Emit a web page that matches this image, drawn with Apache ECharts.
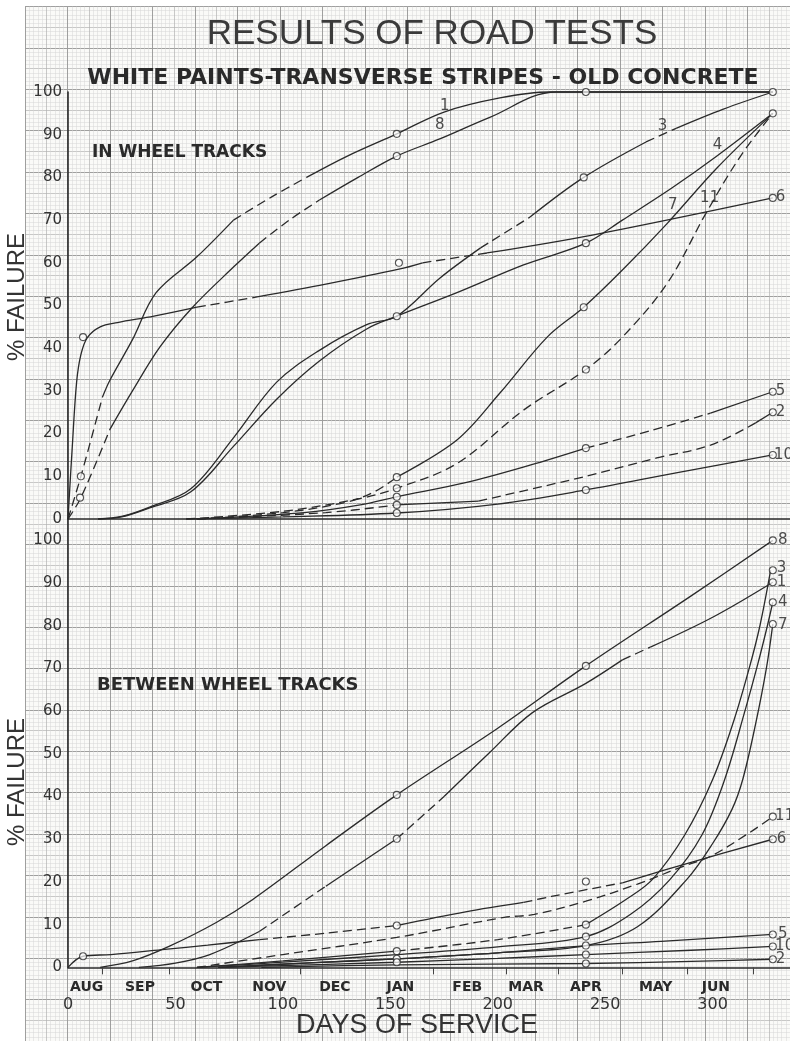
<!DOCTYPE html>
<html><head><meta charset="utf-8">
<script src="https://cdn.jsdelivr.net/npm/echarts@6/dist/echarts.min.js"></script>
<style>html,body{margin:0;padding:0;background:#fff}#c{width:790px;height:1041px}</style>
</head><body><div id="c"></div>
<script>
// ---------- tick labels ----------
const months = ['AUG','SEP','OCT','NOV','DEC','JAN','FEB','MAR','APR','MAY','JUN'];
const monthDays = [8.7,33.5,64.4,93.7,124.2,154.7,185.8,213.2,241,273.5,301.5];
const monthTicks = [16,47,108,170,204,228,258,288,319];
const dayTicks = [0,50,100,150,200,250,300];

// ---------- IN WHEEL TRACKS: curves [days, % failure]; seg: s=solid, d=dashed per segment ----------
const tw1 = [[0,0],[6,10],[16,28.5],[19.5,32.5],[30,42],[41,53],[60,61.4],[77,70],[95,75.5],[111,80],[130,85],[153,90.2],[175,95.3],[201,98.6],[224,100],[328,100]];
const tw1Seg = 'ddsssssddssssss';
const tw8 = [[0,0],[6,5],[19.5,21],[30,30],[42.8,40.3],[58,49.6],[77,59],[89,64.6],[103,70],[117,74.7],[135,80],[153,85],[173,89],[196,94],[227,100],[328,100]];
const tw8Seg = 'ddsssssddssssss';
const tw6 = [[0,0],[2,17],[4,32],[6,38.5],[9,42.5],[15,45],[23,46],[40,47.5],[60,49.6],[88,52],[120,55],[154,58.5],[165,60],[195,62.3],[244,66.5],[328,75.2]];
const tw6Seg = 'ssssssssdsssdss';
const tw3 = [[14,0],[25,0.6],[38,2.8],[57,7],[77,19],[97,32],[117,39.5],[139,45.5],[153,47.5],[173,56.4],[192,63.5],[215,70.7],[240,80],[269,88.3],[283,91.5],[305,96],[328,100]];
const tw3Seg = 'ssssssssssdssdss';
const tw4 = [[14,0],[25,0.5],[38,2.6],[57,6.3],[77,17],[97,28],[117,37],[139,44.5],[153,47.5],[181,53],[212,59.5],[241,64.6],[258,70],[281,77.5],[302,85],[328,95]];
const tw4Seg = 'sssssssssssssss';
const tw7 = [[60,0],[100,1.5],[130,4],[143,6.5],[153,9.8],[181,18.5],[201,29.5],[223,42.6],[240,49.6],[258,58.3],[279,69.3],[302,82.2],[328,95]];
const tw7Seg = 'ddddssssssss';
const tw11 = [[55,0],[100,1.8],[136,4.8],[153,7.2],[181,13],[212,25.5],[241,35],[258,42.6],[279,55.3],[297,71.7],[313,85],[328,95]];
const tw11Seg = 'ddddddddddd';
const tw5 = [[60,0],[110,1.5],[136,3.3],[153,5.2],[185,8.5],[215,12.6],[241,16.6],[272,20.8],[299,24.8],[328,29.8]];
const tw5Seg = 'ssssssdds';
const tw2 = [[60,0],[120,1.5],[153,3.3],[191,4.2],[241,10],[274,14.3],[299,17.3],[320,22.5],[328,25]];
const tw2Seg = 'ddsdddds';
const tw10 = [[55,0],[100,0.5],[153,1.4],[200,3.5],[241,6.8],[283,10.8],[328,15]];
const tw10Seg = 'ssssss';
const twObs = [[6,10],[5.6,5],[7,42.6],[153,90.2],[153,85],[154,60],[153,47.5],[153,9.8],[153,7.2],[153,5.2],[153,3.3],[153,1.4],[241,100],[240,80],[241,64.6],[240,49.6],[241,35],[241,16.6],[241,6.8],[328,100],[328,95],[328,75.2],[328,29.8],[328,25],[328,15]];
const twTags = [['1',175.3,96.6],['8',173,92.3],['3',276.7,91.9],['4',302.3,87.6],['7',281.4,73.5],['11',298.6,75.2],['6',331.6,75.4],['5',331.6,30],['2',331.6,25],['10',333,15]];

// ---------- BETWEEN WHEEL TRACKS ----------
const bw8 = [[15,0],[30,1.5],[47,4.9],[69,10.5],[86,15.9],[120,28.5],[153,40.4],[200,56],[241,70.6],[290,87],[328,100]];
const bw8Seg = 'ssssssssss';
const bw1 = [[33,0],[50,1],[66,3],[89,8.4],[120,19],[153,30.1],[175,40],[196,50.2],[216,59.6],[241,66.5],[258,72],[271,75],[300,82],[328,90.2]];
const bw1Seg = 'sssdsdssssdss';
const bw6 = [[0,0],[7,2.6],[20,3],[45,4.2],[65,5.2],[89,6.5],[120,8],[153,9.8],[185,13],[212,15.2],[225,16.6],[258,19.8],[290,24.6],[328,30]];
const bw6Seg = 'sssssddssddss';
const bw11 = [[60,0],[100,3],[153,7],[203,11.7],[217,12.4],[241,15.5],[265,19.5],[286,23.6],[299,26],[317,31.5],[328,35.3]];
const bw11Seg = 'dddddddddd';
const bw3 = [[60,0],[100,1.5],[153,3.8],[200,6.5],[241,10],[260,16],[272,20.6],[287,31],[300,44],[310,58],[317,70],[322,80],[327,93]];
const bw3Seg = 'ssddssssssss';
const bw4 = [[60,0],[100,1.2],[153,3],[200,4.8],[241,7.2],[262,12.5],[280,20.5],[295,31],[305.6,44],[315,60],[321,71],[325,79],[328,85.5]];
const bw4Seg = 'ssssssssssss';
const bw7 = [[70,0],[110,1],[153,2],[200,3.4],[241,5.1],[265,9.5],[288,20.6],[300,29],[309,37],[314,44],[320,57],[325,70],[328,80.4]];
const bw7Seg = 'ssssssssssss';
const bw5 = [[70,0],[110,1],[153,2],[200,3.4],[241,5.1],[276,6.1],[328,7.7]];
const bw5Seg = 'ssssss';
const bw10 = [[70,0],[153,1.2],[200,2.1],[241,3],[290,4],[328,4.9]];
const bw10Seg = 'sssss';
const bw2 = [[90,0],[153,0.6],[241,0.9],[290,1.4],[328,1.9]];
const bw2Seg = 'ssss';
const bwObs = [[7,2.6],[153,40.4],[153,30.1],[153,9.8],[153,3.8],[153,2.0],[153,1.2],[241,70.6],[241,20.1],[241,10],[241,7.2],[241,5.1],[241,3.0],[241,0.9],[328,100],[328,93],[328,90.2],[328,85.5],[328,80.4],[328,35.3],[328,30],[328,7.7],[328,4.9],[328,1.9]];
const bwTags = [['8',332.6,100],['3',332,93.4],['1',332,90.2],['4',332.6,85.5],['7',332.6,80.2],['11',333.5,35.4],['6',332,30],['5',332.6,7.8],['10',333.5,4.9],['2',331.6,1.9]];

// ---------- layout ----------
const PPD = 2.15, PPV = 4.27, X0 = 68, Y0 = 519;
const INK = '#2a2a2a';
const FONT = 'DejaVu Sans';

function curveSeries(pts, seg, xi, yi) {
  const out = []; let s = 0;
  for (let i = 1; i <= seg.length; i++) {
    if (i === seg.length || seg[i] !== seg[s]) {
      out.push({type:'line', xAxisIndex:xi, yAxisIndex:yi, data:pts.slice(s, i + 1),
        smooth:0.35, symbol:'none', silent:true, clip:false,
        lineStyle:{color:INK, width:1.3, type: seg[s] === 'd' ? [9,5] : 'solid'}, z:3});
      s = i;
    }
  }
  return out;
}
function obsSeries(obs, xi, yi) {
  return {type:'scatter', xAxisIndex:xi, yAxisIndex:yi, data:obs, symbol:'circle', symbolSize:7, silent:true, clip:false,
    itemStyle:{color:'rgba(255,255,255,0.9)', borderColor:INK, borderWidth:1.1}, z:4};
}
function tagSeries(tags, xi, yi) {
  return {type:'scatter', xAxisIndex:xi, yAxisIndex:yi, symbolSize:0, silent:true, clip:false,
    data: tags.map(t => ({name:t[0], value:[t[1], t[2]]})),
    label:{show:true, position:'inside', formatter:'{b}', color:'#222', fontFamily:FONT, fontSize:15}, z:5};
}

const series = [];
[[tw1,tw1Seg],[tw8,tw8Seg],[tw6,tw6Seg],[tw3,tw3Seg],[tw4,tw4Seg],[tw7,tw7Seg],[tw11,tw11Seg],[tw5,tw5Seg],[tw2,tw2Seg],[tw10,tw10Seg]]
  .forEach(c => series.push(...curveSeries(c[0], c[1], 2, 2)));
[[bw8,bw8Seg],[bw1,bw1Seg],[bw6,bw6Seg],[bw11,bw11Seg],[bw3,bw3Seg],[bw4,bw4Seg],[bw7,bw7Seg],[bw5,bw5Seg],[bw10,bw10Seg],[bw2,bw2Seg]]
  .forEach(c => series.push(...curveSeries(c[0], c[1], 3, 3)));
series.push(obsSeries(twObs, 2, 2), obsSeries(bwObs, 3, 3), tagSeries(twTags, 2, 2), tagSeries(bwTags, 3, 3));

const hidden = {axisLine:{show:false}, axisTick:{show:false}, axisLabel:{show:false}};
const fine = {color:'#d6d6d6', width:0.5};
const med = {color:'#b2b2b2', width:0.7};
const heavy = {color:'#9a9a9a', width:0.9};
const axisInk = {show:true, onZero:false, lineStyle:{color:INK, width:1.6}};
const numLabel = {color:'#333', fontFamily:FONT, fontSize:15};

const option = {
  animation:false,
  backgroundColor:'#ffffff',
  title:[
    {text:'RESULTS OF ROAD TESTS', left:427, top:12, textAlign:'center', z:20,
     textStyle:{fontFamily:'Liberation Sans', fontWeight:'normal', fontSize:35, color:'#3a3a3a'}},
    {text:'WHITE PAINTS-TRANSVERSE STRIPES - OLD CONCRETE', left:418, top:62, textAlign:'center', z:20,
     textStyle:{fontFamily:FONT, fontWeight:'bold', fontSize:22, color:'#2a2a2a'}}
  ],
  grid:[
    {left:X0 - 20*PPD, top:Y0 - 120*PPV, width:360*PPD, height:250*PPV, show:true, backgroundColor:'#fafaf8', borderWidth:0},
    {left:X0, top:Y0 - 100*PPV, width:336*PPD, height:100*PPV},
    {left:X0, top:Y0, width:336*PPD, height:105*PPV}
  ],
  xAxis:[
    Object.assign({gridIndex:0, type:'value', min:-20, max:340, interval:10, position:'bottom',
      splitLine:{show:true, lineStyle:med}, minorTick:{show:false, splitNumber:5}, minorSplitLine:{show:true, lineStyle:fine}}, hidden),
    Object.assign({gridIndex:0, type:'value', min:-20, max:340, interval:20, position:'top',
      splitLine:{show:true, lineStyle:heavy}}, hidden),
    {gridIndex:1, type:'value', min:0, max:336, position:'bottom', axisLine:axisInk, axisTick:{show:false}, axisLabel:{show:false}, splitLine:{show:false}},
    {gridIndex:2, type:'value', min:0, max:336, position:'bottom', axisLine:axisInk,
      axisTick:{show:true, customValues:monthTicks, length:7, lineStyle:{color:'#444', width:1}},
      axisLabel:Object.assign({}, numLabel, {customValues:dayTicks, margin:29, fontSize:16}), splitLine:{show:false}},
    {gridIndex:2, type:'value', min:0, max:336, position:'bottom', axisLine:{show:false}, axisTick:{show:false},
      axisLabel:{customValues:monthDays, margin:13, formatter:(v) => months[monthDays.indexOf(v)],
        color:'#2a2a2a', fontFamily:FONT, fontWeight:'bold', fontSize:14}, splitLine:{show:false}}
  ],
  yAxis:[
    Object.assign({gridIndex:0, type:'value', min:-130, max:120, interval:5,
      splitLine:{show:true, lineStyle:med}, minorTick:{show:false, splitNumber:5}, minorSplitLine:{show:true, lineStyle:fine}}, hidden),
    Object.assign({gridIndex:0, type:'value', min:-130, max:120, interval:10, position:'right',
      splitLine:{show:true, lineStyle:heavy}}, hidden),
    {gridIndex:1, type:'value', min:0, max:100, interval:10, axisLine:axisInk, axisTick:{show:false},
      axisLabel:Object.assign({margin:6}, numLabel), splitLine:{show:false}},
    {gridIndex:2, type:'value', min:0, max:105, interval:10, axisLine:axisInk, axisTick:{show:false},
      axisLabel:Object.assign({margin:6, showMaxLabel:false}, numLabel), splitLine:{show:false}}
  ],
  graphic:[
    {type:'text', z:100, x:92, y:144, style:{text:'IN WHEEL TRACKS', fontFamily:FONT, fontWeight:'bold', fontSize:17, fill:'#2a2a2a'}},
    {type:'text', z:100, x:97, y:676, style:{text:'BETWEEN WHEEL TRACKS', fontFamily:FONT, fontWeight:'bold', fontSize:18, fill:'#2a2a2a'}},
    {type:'text', z:100, x:17, y:297, rotation:Math.PI/2, style:{text:'% FAILURE', fontFamily:'Liberation Sans', fontSize:24, fill:'#333', align:'center', verticalAlign:'middle'}},
    {type:'text', z:100, x:17, y:782, rotation:Math.PI/2, style:{text:'% FAILURE', fontFamily:'Liberation Sans', fontSize:24, fill:'#333', align:'center', verticalAlign:'middle'}},
    {type:'text', z:100, x:417, y:1026, style:{text:'DAYS OF SERVICE', fontFamily:'Liberation Sans', fontSize:27, fill:'#333', align:'center', verticalAlign:'middle'}}
  ],
  series: series
};
const chart = echarts.init(document.getElementById('c'), null, {renderer:'canvas'});
chart.setOption(option);
</script></body></html>
